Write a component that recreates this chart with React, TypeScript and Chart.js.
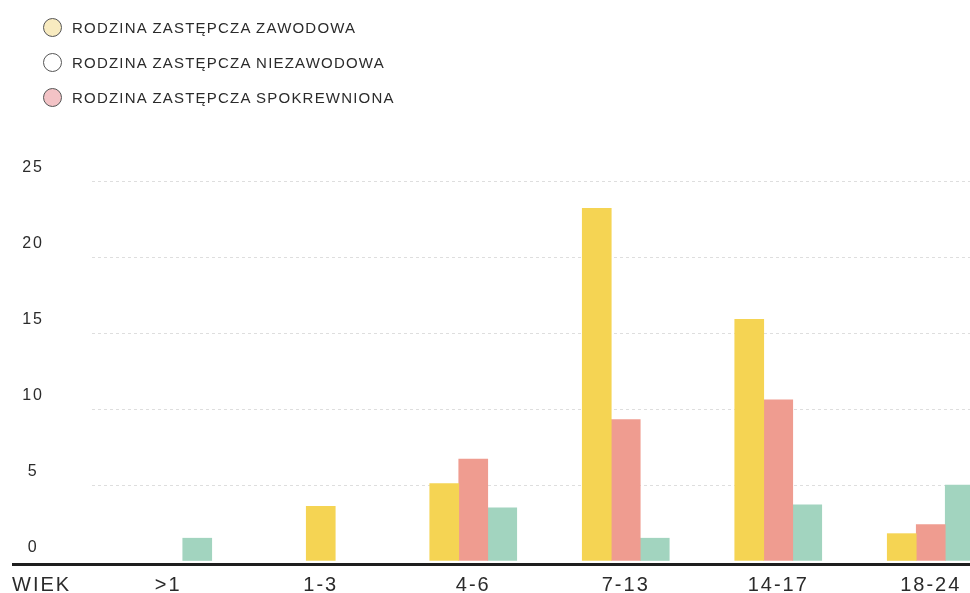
import React, { useEffect, useRef } from 'react';
import { Chart, registerables } from 'chart.js';

Chart.register(...registerables);

const categories = ['>1', '1-3', '4-6', '7-13', '14-17', '18-24'];
const seriesNames = [
  'RODZINA ZASTĘPCZA ZAWODOWA',
  'RODZINA ZASTĘPCZA NIEZAWODOWA',
  'RODZINA ZASTĘPCZA SPOKREWNIONA',
];
const zawodowa: (number | null)[] = [0, 3.6, 5.1, 23.2, 15.9, 1.8];
const niezawodowa: (number | null)[] = [0, null, 6.7, 9.3, 10.6, 2.4];
const spokrewniona: (number | null)[] = [1.5, null, 3.5, 1.5, 3.7, 5.0];
const barColors = ['#F5D453', '#EF9C90', '#A2D4BF'];
const legendFills = ['#F8EBC0', '#FFFFFF', '#F3C3C6'];
const yMin = 0;
const yMax = 25;
const yStep = 5;
const axisTitle = 'WIEK';

const FONT = '"Liberation Sans", Arial, sans-serif';
const TEXT = '#2b2b2b';
const CANVAS_W = 1007;
const CANVAS_H = 593;
const X_TICK_PAD = 12;
const X_FONT = 20;

const decor = {
  id: 'decor',
  beforeDraw(chart: any) {
    (chart.ctx as any).letterSpacing = '2px';
  },
  afterDraw(chart: any) {
    const { ctx, chartArea, scales } = chart;
    ctx.save();
    ctx.fillStyle = '#1e1e1e';
    ctx.fillRect(12, chartArea.bottom + 2, chart.width - 12, 3);
    ctx.font = `${X_FONT}px ${FONT}`;
    ctx.fillStyle = TEXT;
    ctx.textAlign = 'left';
    ctx.textBaseline = 'middle';
    ctx.fillText(axisTitle, 12, scales.x.top + X_TICK_PAD + X_FONT * 0.6);
    ctx.restore();
  },
};

export default function App() {
  const ref = useRef<HTMLCanvasElement | null>(null);

  useEffect(() => {
    if (!ref.current) return;
    const series = [zawodowa, niezawodowa, spokrewniona];
    const chart = new Chart(ref.current, {
      type: 'bar',
      data: {
        labels: categories,
        datasets: series.map((d, i) => ({
          label: seriesNames[i],
          data: d,
          backgroundColor: (c: any) => (c.raw === 0 ? 'rgba(0,0,0,0)' : barColors[i]),
          borderWidth: 0,
          barThickness: 29,
        })),
      },
      options: {
        responsive: false,
        animation: false,
        skipNull: true,
        layout: { padding: { left: 10, top: 181, right: 0, bottom: 0 } },
        plugins: {
          legend: { display: false },
          tooltip: { enabled: false },
          title: { display: false },
        },
        scales: {
          x: {
            type: 'category',
            offset: true,
            grid: { display: false, drawTicks: false },
            border: { display: false },
            ticks: {
              autoSkip: false,
              maxRotation: 0,
              padding: X_TICK_PAD,
              color: TEXT,
              font: { family: FONT, size: X_FONT },
            },
            afterFit(scale: any) {
              scale.height = 32;
            },
          },
          y: {
            min: yMin,
            max: yMax,
            grid: {
              drawTicks: true,
              tickLength: 50,
              tickColor: 'rgba(0,0,0,0)',
              color: (c: any) => (c.tick && c.tick.value === 0 ? 'rgba(0,0,0,0)' : 'rgba(0,0,0,0.13)'),
              lineWidth: 1,
            },
            border: { display: false, dash: [3, 3] },
            ticks: {
              stepSize: yStep,
              padding: 0,
              crossAlign: 'center',
              labelOffset: -13,
              color: TEXT,
              font: { family: FONT, size: 16 },
            },
            afterFit(scale: any) {
              scale.width = 82;
            },
          },
        },
      } as any,
      plugins: [decor],
    });
    return () => chart.destroy();
  }, []);

  return (
    <div style={{ position: 'fixed', left: 0, top: 0, width: 970, height: 593, overflow: 'hidden', background: '#fff' }}>
      <canvas ref={ref} width={CANVAS_W} height={CANVAS_H} style={{ position: 'absolute', left: 0, top: 0, display: 'block' }} />
      {seriesNames.map((name, i) => (
        <div
          key={name}
          style={{
            position: 'absolute',
            left: 43,
            top: 17 + i * 35,
            height: 20,
            display: 'flex',
            alignItems: 'center',
            fontFamily: FONT,
            fontSize: 15,
            letterSpacing: '1.2px',
            color: TEXT,
            whiteSpace: 'nowrap',
          }}
        >
          <span
            style={{
              display: 'inline-block',
              width: 19,
              height: 19,
              boxSizing: 'border-box',
              borderRadius: '50%',
              border: '1.5px solid #555',
              background: legendFills[i],
              marginRight: 10,
              flex: 'none',
            }}
          />
          <span>{name}</span>
        </div>
      ))}
    </div>
  );
}
